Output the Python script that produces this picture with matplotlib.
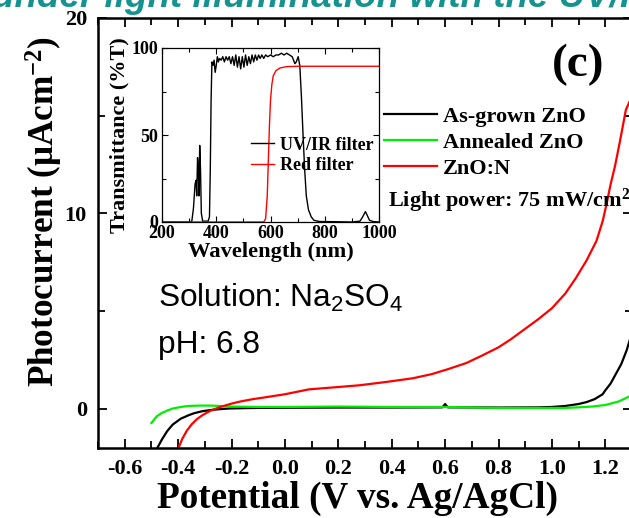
import numpy as np
import matplotlib
matplotlib.use("Agg")
import matplotlib.pyplot as plt
from matplotlib.ticker import MultipleLocator

plt.rcParams['font.family'] = 'Liberation Serif'
plt.rcParams['font.weight'] = 'bold'
plt.rcParams['axes.labelweight'] = 'bold'
plt.rcParams['mathtext.default'] = 'regular'
plt.rcParams['axes.unicode_minus'] = False

# photocurrent vs potential
v_asgrown = [-0.48, -0.46, -0.44, -0.42, -0.39, -0.36, -0.34, -0.31, -0.28, -0.25, -0.21,
             -0.15, -0.1, 0.0, 0.2, 0.4, 0.59, 0.6, 0.61, 0.8, 0.95, 1.0, 1.05, 1.1, 1.13,
             1.16, 1.19, 1.2, 1.22, 1.24, 1.26, 1.28, 1.3]
i_asgrown = [-2.05, -1.55, -1.12, -0.8, -0.5, -0.32, -0.22, -0.12, -0.06, -0.02, 0.02,
             0.04, 0.05, 0.06, 0.07, 0.07, 0.08, 0.25, 0.08, 0.07, 0.08, 0.1, 0.15, 0.25, 0.35,
             0.5, 0.75, 0.95, 1.3, 1.8, 2.3, 3.0, 3.9]

v_annealed = [-0.50, -0.49, -0.48, -0.46, -0.44, -0.42, -0.39, -0.36, -0.32, -0.28, -0.24,
              -0.2, -0.1, 0.0, 0.2, 0.4, 0.6, 0.8, 0.9, 1.0, 1.05, 1.1, 1.15, 1.2, 1.25, 1.3]
i_annealed = [-0.72, -0.55, -0.38, -0.2, -0.08, 0.02, 0.1, 0.15, 0.17, 0.17, 0.15,
              0.12, 0.1, 0.1, 0.12, 0.1, 0.1, 0.05, 0.05, 0.05, 0.05, 0.08, 0.12, 0.2, 0.38, 0.7]

v_znon = [-0.40, -0.385, -0.368, -0.35, -0.33, -0.31, -0.28, -0.25, -0.23, -0.2, -0.17,
          -0.12, -0.08, 0.0, 0.09, 0.2, 0.28, 0.38, 0.48, 0.55, 0.61, 0.68, 0.74, 0.8,
          0.845, 0.9, 0.95, 1.0, 1.05, 1.09, 1.13, 1.167, 1.19, 1.205, 1.22, 1.236, 1.255,
          1.277, 1.3]
i_znon = [-2.05, -1.55, -1.13, -0.8, -0.53, -0.33, -0.1, 0.06, 0.15, 0.27, 0.37,
          0.5, 0.58, 0.75, 1.0, 1.12, 1.21, 1.38, 1.57, 1.78, 2.03, 2.35, 2.74, 3.15,
          3.55, 4.1, 4.6, 5.15, 5.9, 6.7, 7.6, 8.6, 9.6, 10.5, 11.5, 12.4, 13.7,
          15.3, 16.0]

# inset: filter transmittance
wl_uvir = [200, 300, 310, 316, 322, 326, 328, 331, 334, 336, 339, 342, 345, 350, 370, 375,
           378, 381, 384, 388, 392, 396, 400, 404, 408, 412, 418, 424, 430, 436, 442, 448,
           454, 460, 466, 472, 478, 484, 490, 496, 502, 508, 514, 520, 526, 532, 538, 544,
           550, 556, 562, 568, 575, 582, 590, 600, 610, 620, 630, 640, 650, 660, 670, 680,
           690, 695, 702, 708, 714, 720, 726, 732, 740, 750, 760, 780, 900, 930, 940, 950,
           956, 965, 980, 1000]
t_uvir = [0, 0, 0.5, 8, 22, 24, 15, 37, 30, 15, 44, 30, 5, 0.5, 0.5, 3,
          30, 70, 92, 90, 93, 86, 90, 95, 92, 94, 93, 95, 92, 95, 93, 95,
          91, 95, 90, 96, 89, 95, 88, 95, 89, 96, 90, 95, 91, 96, 92, 96,
          93, 96, 94, 96, 94, 96, 95, 96, 95, 96, 96, 97, 96, 97, 96, 95,
          91, 92, 95, 90, 72, 50, 30, 15, 7, 3, 1, 0.3, 0, 0.5, 3, 6,
          4, 1, 0.2, 0]

wl_red = [200, 575, 582, 588, 592, 596, 600, 605, 610, 620, 635, 660, 700, 1000]
t_red = [0, 0, 2, 15, 35, 55, 70, 79, 84, 87, 88.5, 89.3, 89.5, 89.5]

W, H = 629, 518
fig = plt.figure(figsize=(W / 100, H / 100), dpi=100)

ax = fig.add_axes([98 / W, (H - 448) / H, (632 - 98) / W, (448 - 18) / H])
ax.plot(v_asgrown, i_asgrown, color='black', lw=1.6, label='As-grown ZnO')
ax.plot(v_annealed, i_annealed, color='#00ee00', lw=1.6, label='Annealed ZnO')
ax.plot(v_znon, i_znon, color='red', lw=1.6, label='ZnO:N')
ax.set_xlim(-0.7, 1.3)
ax.set_ylim(-2, 20)
ax.xaxis.set_minor_locator(MultipleLocator(0.1))
ax.yaxis.set_major_locator(MultipleLocator(10))
ax.yaxis.set_minor_locator(MultipleLocator(5))
xt = np.arange(-0.6, 1.21, 0.2)
ax.set_xticks(xt)
ax.set_xticklabels(['%.1f' % t for t in xt])
ax.tick_params(which='both', direction='in', top=True, right=True, width=1.3,
               labelsize=16, pad=8)
ax.tick_params(which='major', length=6.5)
ax.tick_params(which='minor', length=5)
for s in ax.spines.values():
    s.set_linewidth(1.8)
ax.set_xlabel('Potential (V vs. Ag/AgCl)', fontsize=26.8)
ax.xaxis.set_label_coords(0.486, -0.077)
ax.set_ylabel('Photocurrent (μAcm$^{-2}$)', fontsize=25.3)
ax.yaxis.set_label_coords(-0.062, 0.549)

ax.legend(loc='upper left', bbox_to_anchor=(0.535, 0.795), frameon=False,
          fontsize=16, handlelength=2.4, handletextpad=0.25, labelspacing=0.25,
          borderaxespad=0, borderpad=0)
ax.text(0.543, 0.56, 'Light power: 75 mW/cm$^{2}$', transform=ax.transAxes,
        fontsize=16, va='baseline')
ax.text(0.85, 0.865, '(c)', transform=ax.transAxes, fontsize=34, va='baseline')
ax.text(0.113, 0.327, 'Solution: Na$_2$SO$_4$', transform=ax.transAxes, fontsize=22.8,
        family='Liberation Sans', weight='normal', va='baseline')
ax.text(0.113, 0.222, 'pH: 6.8', transform=ax.transAxes, fontsize=22.8,
        family='Liberation Sans', weight='normal', va='baseline')

# inset
axin = fig.add_axes([162 / W, (H - 222) / H, (379 - 162) / W, (222 - 48) / H])
axin.plot(wl_uvir, t_uvir, color='black', lw=1.0, label='UV/IR filter')
axin.plot(wl_red, t_red, color='red', lw=1.0, label='Red filter')
axin.set_xlim(200, 1000)
axin.set_ylim(0, 100)
axin.xaxis.set_major_locator(MultipleLocator(200))
axin.xaxis.set_minor_locator(MultipleLocator(100))
axin.yaxis.set_major_locator(MultipleLocator(50))
axin.yaxis.set_minor_locator(MultipleLocator(25))
axin.tick_params(which='both', direction='in', top=True, right=True, labelsize=13,
                 pad=2, width=0.8)
axin.tick_params(axis='y', pad=3)
axin.tick_params(which='major', length=4)
axin.tick_params(which='minor', length=3)
for s in axin.spines.values():
    s.set_linewidth(0.9)
axin.set_xlabel('Wavelength (nm)', fontsize=16.2, labelpad=0)
axin.set_ylabel('Transmittance (%T)', fontsize=16, labelpad=1)
axin.legend(loc='upper left', bbox_to_anchor=(0.41, 0.49), frameon=False, fontsize=13,
            handlelength=1.3, handletextpad=0.3, labelspacing=0.2,
            borderaxespad=0, borderpad=0)

# cut-off title at the very top
fig.text(-8 / W, 1 - 7 / H, 'under light illumination with the UV/IR filter',
         color='#16938f', fontsize=26.5, family='Liberation Sans', weight='bold',
         style='italic', va='baseline', ha='left')

fig.savefig('out.png', dpi=100)
